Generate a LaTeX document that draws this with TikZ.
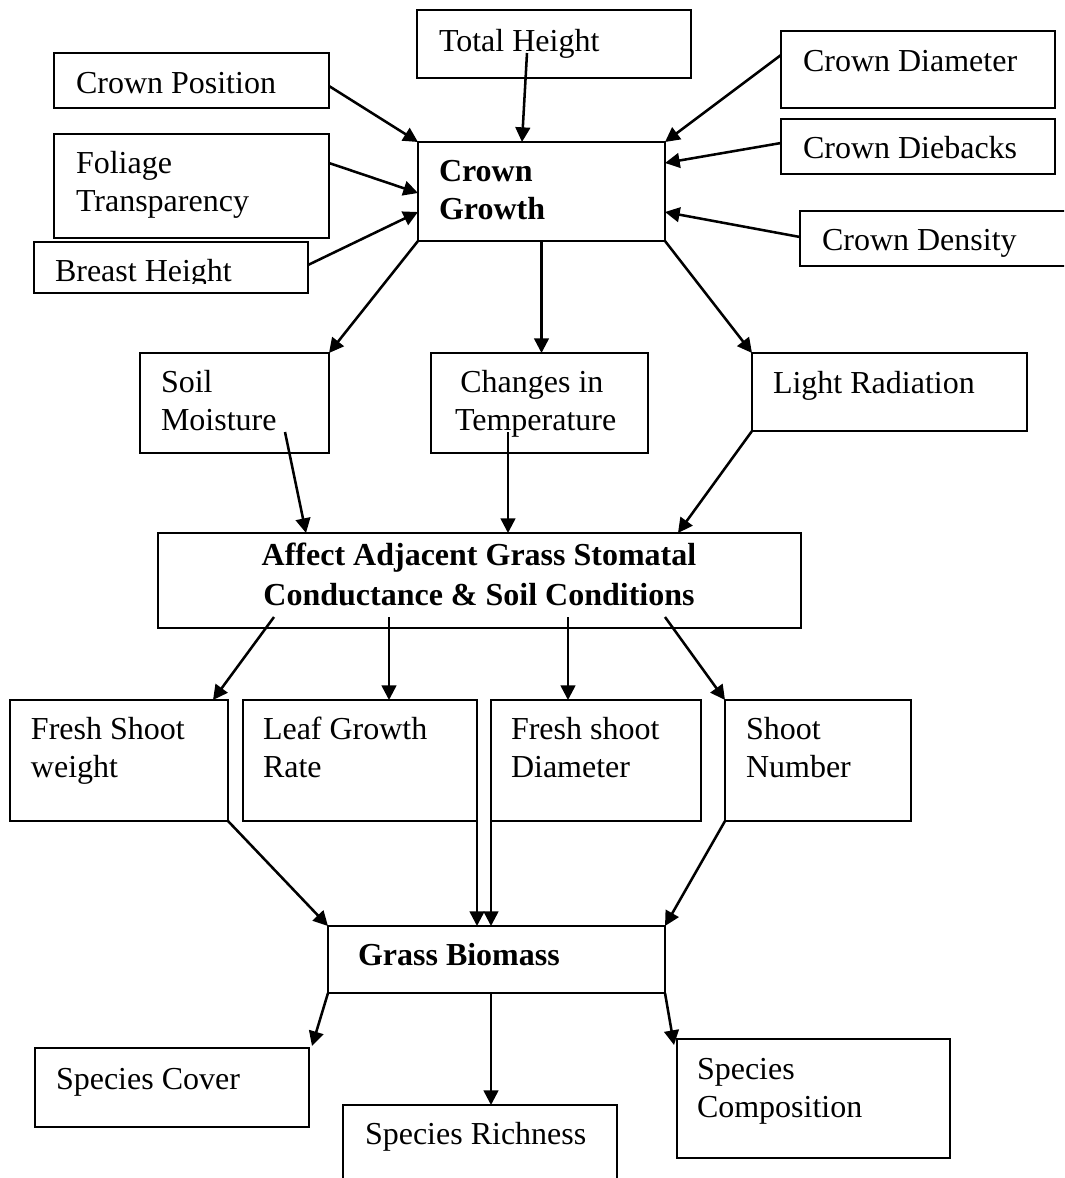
\documentclass[tikz,border=0pt]{standalone}
\usepackage{fontspec}
\setmainfont{Liberation Serif}
\usetikzlibrary{arrows.meta,fit,calc}
\begin{document}
\begin{tikzpicture}[x=0.75pt,y=-0.75pt,
  box/.style={draw, line width=1.5pt, inner sep=0pt, outer sep=0pt},
  lbl/.style={anchor=base west, inner sep=0pt, outer sep=0pt, align=left, font=\fontsize{24pt}{28pt}\selectfont},
  blbl/.style={lbl, font=\fontsize{24pt}{28pt}\selectfont\bfseries},
  arr/.style={line width=1.9pt, -{Triangle[length=11pt,width=11pt]}}]
\useasboundingbox (0,0) rectangle (1064,1178);
\clip (0,0) rectangle (1064,1178);

% boxes
\node[box, fit={(417,10) (691,78)}] (th) {};
\node[box, fit={(54,53) (329,108)}] (cp) {};
\node[box, fit={(54,134) (329,238)}] (ft) {};
\node[box, fit={(34,242) (308,293)}] (bh) {};
\node[box, fit={(418,142) (665,241)}] (cg) {};
\node[box, fit={(781,31) (1055,108)}] (cd) {};
\node[box, fit={(781,119) (1055,174)}] (cdb) {};
\node[box, fit={(800,211) (1066,266)}] (cden) {};
\node[box, fit={(140,353) (329,453)}] (sm) {};
\node[box, fit={(431,353) (648,453)}] (ct) {};
\node[box, fit={(752,353) (1027,431)}] (lr) {};
\node[box, fit={(158,533) (801,628)}] (aff) {};
\node[box, fit={(10,700) (228,821)}] (fsw) {};
\node[box, fit={(243,700) (477,821)}] (lgr) {};
\node[box, fit={(491,700) (701,821)}] (fsd) {};
\node[box, fit={(725,700) (911,821)}] (sn) {};
\node[box, fit={(328,926) (665,993)}] (gb) {};
\node[box, fit={(35,1048) (309,1127)}] (sc) {};
\node[box, fit={(343,1105) (617,1195)}] (sr) {};
\node[box, fit={(677,1039) (950,1158)}] (sco) {};

% texts (multi-line nodes are anchored at the baseline of their last line)
\node[lbl] (tht) at (439,51) {Total Height};
\node[lbl] (cpt) at (76,93) {Crown Position};
\node[lbl] (ftt) at (76,211) {Foliage\\Transparency};
\begin{scope}
  \clip (34,242) rectangle (308,283);
  \node[lbl] (bht) at (55,281) {Breast Height};
\end{scope}
\node[blbl] (cgt) at (439,219) {Crown\\Growth};
\node[lbl] (cdt) at (803,71) {Crown Diameter};
\node[lbl] (cdbt) at (803,158) {Crown Diebacks};
\node[lbl] (cdent) at (822,250) {Crown Density};
\node[lbl] (smt) at (161,430) {Soil\\Moisture};
\node[lbl] (ctt) at (455,430) {\hspace*{4pt}Changes in\\Temperature};
\node[lbl] (lrt) at (773,393) {Light Radiation};
\node[blbl, anchor=base, align=center, font=\fontsize{24pt}{29.5pt}\selectfont\bfseries] (afft) at (479,605) {Affect Adjacent Grass Stomatal\\Conductance \& Soil Conditions};
\node[lbl] (fswt) at (31,777) {Fresh Shoot\\weight};
\node[lbl] (lgrt) at (263,777) {Leaf Growth\\Rate};
\node[lbl] (fsdt) at (511,777) {Fresh shoot\\Diameter};
\node[lbl] (snt) at (746,777) {Shoot\\Number};
\node[blbl] (gbt) at (358,965) {Grass Biomass};
\node[lbl] (sct) at (56,1089) {Species Cover};
\node[lbl] (srt) at (365,1144) {Species Richness};
\node[lbl] (scot) at (697,1117) {Species\\Composition};

% connectors into Crown Growth
\draw[arr] ($(cp.east)+(0,5.5)$) -- (cg.north west);
\draw[arr] ($(ft.north east)+(0,29)$) -- ($(cg.west)+(0,1.5)$);
\draw[arr] ($(bh.east)+(0,-2.5)$) -- ($(cg.west)+(0,20.5)$);
\draw[arr] ($(th.center)+(-27,9)$) -- ($(cg.north)+(-19.5,0)$);
\draw[arr] ($(cd.west)+(0,-14.5)$) -- (cg.north east);
\draw[arr] ($(cdb.west)+(0,-3.5)$) -- ($(cg.east)+(0,-28.5)$);
\draw[arr] ($(cden.west)+(0,-1.5)$) -- ($(cg.east)+(0,20.5)$);

% Crown Growth to second row
\draw[arr] (cg.south west) -- (sm.north east);
\draw[arr] (cg.south) -- (cg.south |- ct.north);
\draw[arr] (cg.south east) -- (lr.north west);

% second row to Affect
\draw[arr] ($(sm.center)+(50.5,29)$) -- ($(aff.north)+(-173.5,0)$);
\draw[arr] ($(ct.center)+(-31.5,29)$) -- ($(aff.north)+(28.5,0)$);
\draw[arr] (lr.south west) -- ($(aff.north)+(198.5,0)$);

% Affect to third row
\draw[arr] ($(aff.south)+(-205.5,-11)$) -- ($(fsw.north east)+(-15,0)$);
\draw[arr] ($(aff.south)+(-90.5,-11)$) -- ($(lgr.north)+(29,0)$);
\draw[arr] ($(aff.south)+(88.5,-11)$) -- ($(fsd.north)+(-28,0)$);
\draw[arr] ($(aff.south)+(185.5,-11)$) -- (sn.north west);

% third row to Grass Biomass
\draw[arr] (fsw.south east) -- (gb.north west);
\draw[arr] (lgr.south east) -- (lgr.south east |- gb.north);
\draw[arr] (fsd.south west) -- (fsd.south west |- gb.north);
\draw[arr] (sn.south west) -- (gb.north east);

% Grass Biomass to species
\draw[arr] (gb.south west) -- ($(sc.north east)+(3,-2)$);
\draw[arr] ($(gb.south)+(-5.5,0)$) -- ($(sr.north)+(11,0)$);
\draw[arr] (gb.south east) -- ($(sco.north west)+(-3,6)$);
\end{tikzpicture}
\end{document}
